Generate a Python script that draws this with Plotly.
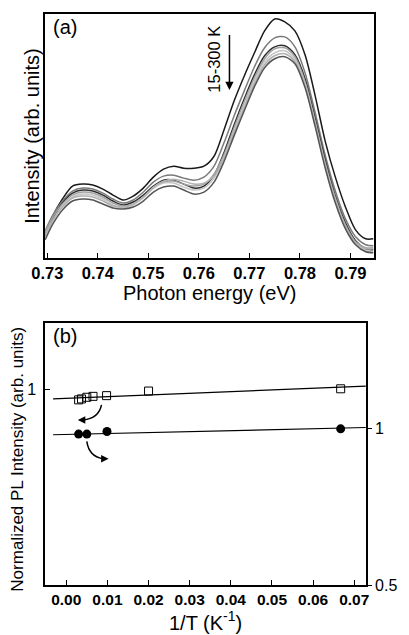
import plotly.graph_objects as go

# ---------------- Panel (a): PL spectra ----------------
energy = [0.7296, 0.731, 0.733, 0.735, 0.737, 0.739, 0.741, 0.743, 0.745, 0.747,
          0.749, 0.751, 0.753, 0.755, 0.757, 0.759, 0.761, 0.763, 0.765, 0.767,
          0.769, 0.771, 0.773, 0.775, 0.777, 0.779, 0.781, 0.783, 0.785, 0.787,
          0.789, 0.791, 0.793, 0.7945]

spec_15K = [24, 41, 59, 72, 74, 73, 69, 63, 58, 62, 70, 81, 89, 92, 90, 90, 92, 102,
            129, 158, 183, 206, 228, 240, 237, 228, 204, 163, 117, 81, 51, 28, 19, 19]
spec_50K = [27, 42, 57, 67, 70, 69, 65, 59, 55, 58, 66, 76, 82, 83, 80, 78, 81, 92,
            116, 143, 168, 192, 211, 221, 222, 212, 186, 146, 103, 67, 39, 21, 13, 12]
spec_100K = [22, 38, 55, 65, 68, 67, 63, 57, 53, 56, 63, 72, 78, 78, 74, 70, 72, 83,
             106, 134, 160, 184, 203, 212, 213, 204, 180, 140, 98, 62, 35, 17, 9, 8]
spec_150K = [25, 40, 54, 63, 66, 65, 61, 55, 52, 54, 61, 70, 76, 77, 74, 72, 74, 84,
             104, 131, 157, 181, 200, 210, 211, 202, 177, 137, 95, 60, 33, 16, 10, 10]
spec_200K = [20, 36, 52, 61, 64, 63, 59, 53, 50, 53, 60, 70, 75, 75, 71, 68, 70, 80,
             101, 128, 154, 178, 197, 206, 208, 199, 175, 135, 93, 58, 31, 14, 7, 6]
spec_250K = [23, 37, 51, 60, 62, 61, 57, 52, 51, 54, 61, 71, 77, 79, 77, 74, 75, 82,
             100, 126, 151, 175, 194, 203, 205, 197, 173, 134, 92, 57, 31, 15, 9, 9]
spec_300K = [18, 33, 48, 57, 59, 58, 54, 50, 49, 51, 57, 66, 71, 72, 68, 64, 66, 76,
             97, 123, 148, 172, 191, 200, 202, 195, 171, 132, 90, 55, 29, 13, 6, 5]

spectra = [spec_15K, spec_50K, spec_100K, spec_150K, spec_200K, spec_250K, spec_300K]
spec_names = ["15 K", "50 K", "100 K", "150 K", "200 K", "250 K", "300 K"]
spec_colors = ["#1a1a1a", "#7a7a7a", "#2e2e2e", "#a0a0a0", "#c4c4c4", "#b0b0b0", "#555555"]

xa_ticks = [0.73, 0.74, 0.75, 0.76, 0.77, 0.78, 0.79]
xa_ticktext = ["0.73", "0.74", "0.75", "0.76", "0.77", "0.78", "0.79"]

# ---------------- Panel (b): normalized PL intensity ----------------
invT_sq = [0.0030, 0.0037, 0.0050, 0.0065, 0.0098, 0.0200, 0.0667]
int_sq = [0.953, 0.957, 0.964, 0.968, 0.971, 0.991, 1.001]
invT_ci = [0.0030, 0.0050, 0.0099, 0.0667]
int_ci = [0.977, 0.977, 0.988, 1.000]
fit_x = [-0.0032, 0.0728]
fit_sq = [0.957, 1.013]
fit_ci = [0.974, 1.006]

xb_ticks = [0.00, 0.01, 0.02, 0.03, 0.04, 0.05, 0.06, 0.07]
xb_ticktext = ["0.00", "0.01", "0.02", "0.03", "0.04", "0.05", "0.06", "0.07"]

FONT = "Arial, Liberation Sans, sans-serif"

fig = go.Figure()

for vals, name, col in zip(spectra, spec_names, spec_colors):
    fig.add_trace(go.Scatter(x=energy, y=vals, mode="lines", name=name,
                             line=dict(color=col, width=1.5, shape="spline", smoothing=0.8),
                             xaxis="x", yaxis="y", showlegend=False))

fig.add_trace(go.Scatter(x=fit_x, y=fit_sq, mode="lines", line=dict(color="black", width=1.2),
                         xaxis="x2", yaxis="y2", showlegend=False))
fig.add_trace(go.Scatter(x=invT_sq, y=int_sq, mode="markers",
                         marker=dict(symbol="square-open", size=8, color="black", line=dict(width=1)),
                         xaxis="x2", yaxis="y2", showlegend=False))
fig.add_trace(go.Scatter(x=fit_x, y=fit_ci, mode="lines", line=dict(color="black", width=1.2),
                         xaxis="x2", yaxis="y3", showlegend=False))
fig.add_trace(go.Scatter(x=invT_ci, y=int_ci, mode="markers",
                         marker=dict(symbol="circle", size=9, color="black"),
                         xaxis="x2", yaxis="y3", showlegend=False))

W, H = 409, 635
L, R, T, B = 45, 28, 12, 49
pw, ph = W - L - R, H - T - B


def px(xp):
    return (xp - L) / pw


def py(yp):
    return (H - B - yp) / ph


axis_common = dict(showline=True, linecolor="black", linewidth=1.5, mirror=True,
                   showgrid=False, zeroline=False)

fig.update_layout(
    width=W, height=H, margin=dict(l=L, r=R, t=T, b=B),
    paper_bgcolor="white", plot_bgcolor="white",
    font=dict(family=FONT, color="black"),
    xaxis=dict(domain=[0, 1], anchor="y", range=[0.72955, 0.79465],
               tickvals=xa_ticks, ticktext=xa_ticktext, ticks="inside", ticklen=5,
               tickcolor="black", tickwidth=1.2,
               tickfont=dict(size=16.5, family=FONT, weight="bold"),
               **axis_common),
    yaxis=dict(domain=[py(257), 1], anchor="x", range=[0, 245],
               showticklabels=False, ticks="", **axis_common),
    xaxis2=dict(domain=[0, px(373)], anchor="y2", range=[-0.00517, 0.0729],
                tickvals=xb_ticks, ticktext=xb_ticktext, ticks="inside", ticklen=5,
                tickcolor="black", tickwidth=1.2,
                tickfont=dict(size=15.5, family=FONT, weight="bold"),
                title=dict(text="1/T (K<sup>-1</sup>)", font=dict(size=20), standoff=1),
                **axis_common),
    yaxis2=dict(domain=[0, py(323)], anchor="x2", type="log", range=[-0.3777, 0.1265],
                tickvals=[1], ticktext=["1"], ticks="inside", ticklen=5,
                ticklabelstandoff=4,
                tickcolor="black", tickfont=dict(size=16), **axis_common),
    yaxis3=dict(overlaying="y2", anchor="x2", side="right", type="log",
                range=[-0.30103, 0.2033], tickvals=[0.5, 1], ticktext=["0.5", "1"],
                ticks="outside", ticklen=4, tickcolor="black", tickfont=dict(size=16),
                showline=True, linecolor="black", linewidth=1.5, showgrid=False,
                zeroline=False),
)

annotations = [
    dict(text="(a)", xref="paper", yref="paper", x=px(51), y=py(25), xanchor="left",
         yanchor="middle", showarrow=False, font=dict(size=20)),
    dict(text="(b)", xref="paper", yref="paper", x=px(51), y=py(336), xanchor="left",
         yanchor="middle", showarrow=False, font=dict(size=20)),
    dict(text="Photon energy (eV)", xref="paper", yref="paper", x=0.5, y=py(292),
         xanchor="center", yanchor="middle", showarrow=False, font=dict(size=20)),
    dict(text="Intensity (arb. units)", xref="paper", yref="paper", x=0,
         y=(py(257) + 1) / 2, xshift=-13, xanchor="center", yanchor="middle",
         textangle=-90, showarrow=False, font=dict(size=20)),
    dict(text="Normalized PL Intensity (arb. units)", xref="paper", yref="paper", x=0,
         y=py(460), xshift=-27, xanchor="center", yanchor="middle",
         textangle=-90, showarrow=False, font=dict(size=17)),
    dict(text="15-300 K", xref="x", yref="y", x=0.76298, y=200, textangle=-90,
         showarrow=False, font=dict(size=16.5)),
    dict(text="", xref="x", yref="y", x=0.76605, y=168.7, axref="x", ayref="y",
         ax=0.76605, ay=225.3, showarrow=True, arrowhead=2, arrowsize=1.1,
         arrowwidth=1.5, arrowcolor="black"),
    # arrow heads for the curved arrows in (b)
    dict(text="", xref="paper", yref="paper", x=px(78.5), y=py(420.2), ax=7, ay=0,
         showarrow=True, arrowhead=2, arrowsize=1, arrowwidth=1.5, arrowcolor="black"),
    dict(text="", xref="paper", yref="paper", x=px(110), y=py(459), ax=-7, ay=0,
         showarrow=True, arrowhead=2, arrowsize=1, arrowwidth=1.5, arrowcolor="black"),
]
fig.update_layout(annotations=annotations)

shapes = [
    dict(type="path", xref="paper", yref="paper",
         path=f"M {px(102.7)},{py(405)} Q {px(100)},{py(418.5)} {px(84)},{py(420.2)}",
         line=dict(color="black", width=1.5)),
    dict(type="path", xref="paper", yref="paper",
         path=f"M {px(87.7)},{py(441.7)} Q {px(90)},{py(457)} {px(104)},{py(459)}",
         line=dict(color="black", width=1.5)),
]
fig.update_layout(shapes=shapes)

fig.write_html("out.html", config={"displayModeBar": False},
               post_script="document.body.style.margin='0';document.body.style.overflow='hidden';")
